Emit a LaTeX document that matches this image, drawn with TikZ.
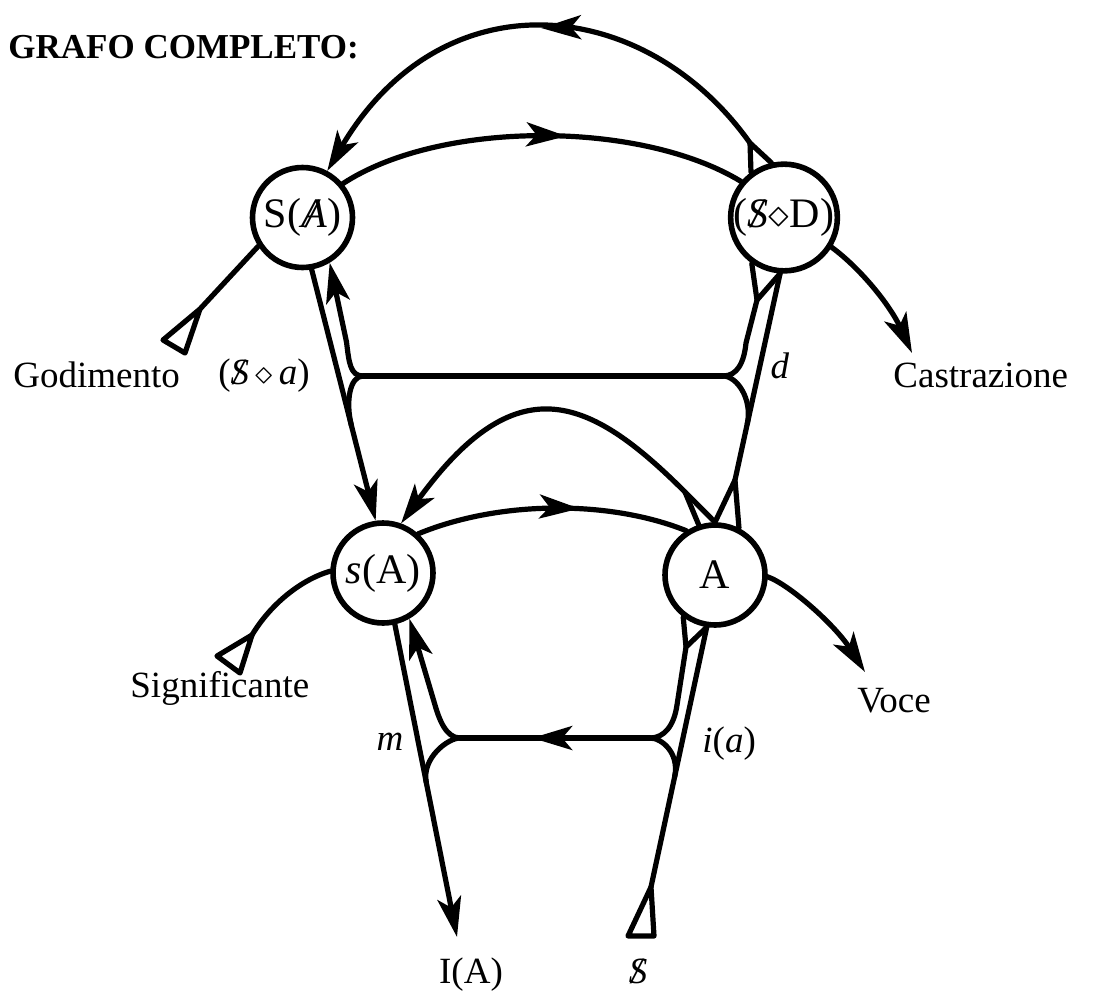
\documentclass[tikz,border=0pt]{standalone}
\usepackage{fontspec}
\setmainfont{Liberation Serif}
\usetikzlibrary{arrows.meta,decorations.markings,calc}
\newcommand{\Sbar}{{\ooalign{\hfil\textit{S}\hfil\cr\hfil\textit{/}\hfil\cr}}}
\newcommand{\Abar}{{\ooalign{\hfil\textit{A}\hfil\cr\hfil\textit{/}\hfil\cr}}}
\tikzset{
  every node/.style={font=\fontsize{18.5}{21}\selectfont},
  nd/.style={circle,draw,line width=2.8pt,minimum size=50pt,inner sep=0pt,font=\fontsize{21}{23}\selectfont},
  wire/.style={line width=2.6pt,line cap=round,line join=round},
  endarr/.style={-{Stealth[length=20pt,width=12pt,inset=5pt]}},
  midarr/.style={postaction={decorate},decoration={markings,mark=at position #1 with {\arrow{Stealth[length=20pt,width=12pt,inset=5pt]}}}},
  lbl/.style={inner sep=0pt},
}
\begin{document}
\begin{tikzpicture}[x=0.5pt,y=-0.5pt]
\useasboundingbox (0,0) rectangle (1103,991);
% nodes
\node[nd] (SA) at (302.5,217.5) {S(\Abar)};
\node[nd] (SD) at (784,217.5) {(\Sbar$\diamond$D)};
\node[nd] (sA) at (383,573) {\textit{s}(A)};
\node[nd] (A) at (715,575) {A};
% labels
\node[lbl,anchor=base west] (title) at (8,58) {\fontsize{17.5}{20}\selectfont\bfseries GRAFO COMPLETO:};
\node[lbl,anchor=base west] (god) at (13,387) {Godimento};
\node[lbl,anchor=base west] (sdiaa) at (218,384) {(\Sbar\,$\diamond$\,\textit{a})};
\node[lbl,anchor=base] (dlab) at (780,378) {\textit{d}};
\node[lbl,anchor=base west] (cast) at (893,387) {Castrazione};
\node[lbl,anchor=base west] (sig) at (130,697) {Significante};
\node[lbl,anchor=base west] (voce) at (857,712) {Voce};
\node[lbl,anchor=base] (mlab) at (390,750) {\textit{m}};
\node[lbl,anchor=base west] (ia) at (702,752) {\textit{i}(\textit{a})};
\node[lbl,anchor=base] (IA) at (471,983) {I(A)};
\node[lbl,anchor=base] (Sb) at (638,983) {\Sbar};
% upper big arc
\coordinate (Q) at (750,143);
\draw[wire] (SD.126) -- (Q);
\draw[wire] (SD.103) -- (Q);
\draw[wire,endarr,midarr=0.48] (Q) .. controls (645,-5) and (443,-25) .. (SA.62);
% upper short arc
\draw[wire,midarr=0.56] (SA.40) .. controls (440,120) and (640,120) .. (SD.140);
% S(A) -> s(A)
\draw[wire,endarr] (SA.-80) -- (sA.98);
% upper horizontal with junctions
\coordinate (J1) at (363,376);
\coordinate (J2) at (723,376);
\coordinate (M1) at ($(SA.-80)!0.62!(sA.98)$);
\draw[wire,endarr] (J1) .. controls (350,376) and (349,362) .. (346.5,342) -- (SA.-59);
\draw[wire] (J1) .. controls (350,376) and ($(M1)+(-6,-24)$) .. (M1);
\draw[wire] (J1) -- (J2);
\coordinate (P2) at (757,300);
\draw[wire] (J2) .. controls (737,376) and (744,363) .. (746,343) -- (P2) -- (SD.-125);
\draw[wire] (P2) -- (SD.-94);
\coordinate (P3) at (735,480);
\draw[wire] (A.63) -- (P3) -- (SD.-94);
\draw[wire] (A.90) -- (P3);
\coordinate (M2) at ($(SD.-94)!0.7275!(P3)$);
\draw[wire] (J2) .. controls (737,376) and ($(M2)+(5.3,-24.4)$) .. (M2);
% lower big arc
\coordinate (P4) at (685,492);
\draw[wire] (A.108) -- (P4);
\draw[wire,endarr] (A.90) -- (P4) .. controls (588,395) and (516,365) .. (sA.70);
% lower short arc
\draw[wire,midarr=0.6] (sA.48) .. controls (500,500) and (610,500) .. (A.123);
% lower part
\coordinate (J3) at (460,738);
\coordinate (J4) at (650,738);
\coordinate (IAt) at (457,937);
\draw[wire,endarr] (sA.-77.5) -- (IAt);
\coordinate (M3) at ($(sA.-77.5)!0.506!(IAt)$);
\draw[wire,endarr] (J3) .. controls (446,738) and (439,719) .. (435,705) -- (sA.-60);
\draw[wire] (J3) .. controls (448,738) and ($(M3)+(-4.9,-24.5)$) .. (M3);
\draw[wire,midarr=0.62] (J4) -- (J3);
\coordinate (P5) at (686,647);
\coordinate (Stri) at (651,887);
\draw[wire] (Stri) -- (A.-99);
\draw[wire] (J4) .. controls (664,738) and (674,726) .. (677,705) -- (P5) -- (A.-127);
\draw[wire] (P5) -- (A.-99);
\coordinate (M4) at ($(Stri)!0.424!(A.-99)$);
\draw[wire] (J4) .. controls (662,738) and ($(M4)+(5,-23.5)$) .. (M4);
\draw[wire] (Stri) -- (628,936) -- (654,936) -- cycle;
% side connectors
\coordinate (Gtri) at (200,309);
\draw[wire] (SA.213) -- (Gtri);
\draw[wire] (Gtri) -- (163,340) -- (185,353) -- cycle;
\coordinate (Ctip) at (912,353);
\draw[wire,endarr] (SD.-32) .. controls (860,268) and (890,305) .. (Ctip);
\coordinate (Vtip) at (865,672);
\draw[wire,endarr] (A.-2) .. controls (790,585) and (835,625) .. (Vtip);
\coordinate (Stri2) at (252,635);
\draw[wire] (sA.178) .. controls (300,580) and (270,605) .. (Stri2);
\draw[wire] (Stri2) -- (217,656) -- (240,673) -- cycle;
\end{tikzpicture}
\end{document}
